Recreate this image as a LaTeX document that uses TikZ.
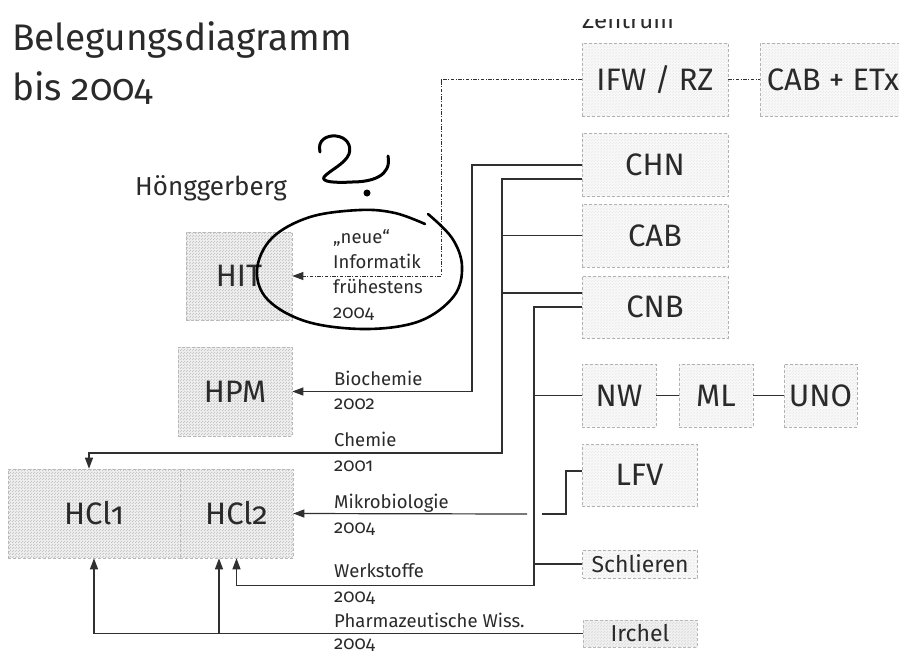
\documentclass[tikz,border=0pt]{standalone}
\usepackage{fontspec}
\setmainfont{Fira Sans}[Numbers=OldStyle]
\usetikzlibrary{arrows.meta,patterns,calc}
\definecolor{ink}{HTML}{2A2A2A}
\definecolor{ln}{HTML}{303030}
\begin{document}
\begin{tikzpicture}[x=1pt,y=-1pt,
  conn/.style={draw=ln, line width=1.2pt},
  arr/.style={-{Stealth[length=11pt,width=8pt,inset=0pt]}},
  ddash/.style={draw=ln, line width=0.9pt, dash pattern=on 3.5pt off 1.5pt on 1pt off 1.5pt},
  zbox/.style={draw=gray!60, line width=0.6pt, dash pattern=on 3pt off 2pt,
    preaction={fill=gray!5}, pattern=north east lines, pattern color=gray!18,
    inner sep=0pt, text=ink, font=\fontsize{31}{36}\selectfont},
  hbox/.style={draw=gray!55, line width=0.6pt, dash pattern=on 3pt off 2pt,
    preaction={fill=gray!12}, pattern=north east lines, pattern color=gray!50,
    inner sep=0pt, text=ink, font=\fontsize{31}{36}\selectfont},
  lab/.style={anchor=base west, inner sep=0pt, text=ink, font=\fontsize{18.5}{22}\selectfont},
  scrib/.style={draw=black, line width=3pt, line cap=round, line join=round}
]
\useasboundingbox (0,0) rectangle (899,654);
\fill[white] (0,0) rectangle (899,654);

% titles
\node[anchor=base west, inner sep=0pt, text=ink, font=\fontsize{37}{40}\selectfont] (t1) at (12,50) {Belegungsdiagramm};
\node[anchor=base west, inner sep=0pt, text=ink, font=\fontsize{37}{40}\selectfont] (t2) at (12,100) {bis 2004};
\node[anchor=base west, inner sep=0pt, text=ink, font=\fontsize{26}{28}\selectfont] (hg) at (135,195) {Hönggerberg};
\begin{scope}
  \clip (570,19) rectangle (720,40);
  \node[anchor=base west, inner sep=0pt, text=ink, font=\fontsize{24}{28}\selectfont] (zt) at (582,28) {Zentrum};
\end{scope}

% Zentrum boxes
\node[zbox, minimum width=146pt, minimum height=73pt] (ifw) at (655,79.5) {IFW / RZ};
\node[zbox, minimum width=146pt, minimum height=73pt] (cabetx) at (833,79.5) {CAB + ETx};
\node[zbox, minimum width=146pt, minimum height=63pt] (chn) at (655,165) {CHN};
\node[zbox, minimum width=146pt, minimum height=63pt] (cab) at (655,235.5) {CAB};
\node[zbox, minimum width=146pt, minimum height=62pt] (cnb) at (655,307) {CNB};
\node[zbox, minimum width=74pt, minimum height=63pt] (nw) at (619,395.5) {NW};
\node[zbox, minimum width=74pt, minimum height=63pt] (ml) at (716,395.5) {ML};
\node[zbox, minimum width=73pt, minimum height=63pt] (uno) at (820.5,395.5) {UNO};
\node[zbox, minimum width=115pt, minimum height=62pt] (lfv) at (639.5,475) {LFV};
\node[zbox, minimum width=115pt, minimum height=28pt, font=\fontsize{23}{28}\selectfont] (schl) at (640,564) {Schlieren};
\node[hbox, pattern color=gray!30, minimum width=114pt, minimum height=27pt, font=\fontsize{23}{28}\selectfont] (irchel) at (640,633.5) {Irchel};

% Hönggerberg boxes
\node[hbox, minimum width=106pt, minimum height=88pt] (hit) at (239,276) {HIT};
\node[hbox, minimum width=114pt, minimum height=89pt] (hpm) at (235,391.5) {HPM};
\node[hbox, minimum width=172pt, minimum height=89pt] (hcl1) at (94,513.5) {HCl1};
\node[hbox, minimum width=113pt, minimum height=89pt] (hcl2) at (236.5,513.5) {HCl2};

% coordinates
\coordinate (b1) at (472,391.5);
\coordinate (c1) at (502,453);
\coordinate (c2) at (89,453);
\coordinate (w1) at (534,585.5);
\coordinate (m1) at (566,514);
\coordinate (m2) at (542,514);
\coordinate (m3) at (527,514);
\coordinate (p1) at (219,633.5);
\coordinate (d1) at (441,276);

% dash-dot connectors
\draw[ddash, arr] (ifw.west) -| (d1) -- (hit.east);
\draw[ddash] (ifw.east) -- (cabetx.west);

% Biochemie
\draw[conn, arr] (chn.west) -| (b1) -- (hpm.east);
% Chemie
\draw[conn, arr] ([yshift=-14pt]chn.west) -| (c1) -- (c2) -- (c2 |- hcl1.north);
\draw[conn] (cab.west) -- (cab.west -| c1);
\draw[conn] ([yshift=14pt]cnb.west) -- ([yshift=14pt]cnb.west -| c1);
% Werkstoffe
\draw[conn, arr] (cnb.west) -| (w1) -| (hcl2.south);
\draw[conn] (nw.west) -- (nw.west -| w1);
\draw[conn] (schl.west) -- (schl.west -| w1);
% Mikrobiologie
\draw[conn] ([yshift=4pt]lfv.west) -| (m1) -- (m2);
\draw[conn, arr] (m3) -- (hcl2.east);
% Pharmazeutische Wiss.
\draw[conn, arr] (irchel.west) -| (hcl1.south);
\draw[conn, arr] (p1) -- (p1 |- hcl2.south);
% NW - ML - UNO
\draw[conn] (nw.east) -- (ml.west);
\draw[conn] (ml.east) -- (uno.west);

% labels
\node[lab] (l1) at (334,385) {Biochemie};
\node[lab] (l1b) at (334,409) {2002};
\node[lab] (l2) at (334,446) {Chemie};
\node[lab] (l2b) at (334,471) {2001};
\node[lab] (l3) at (334,508) {Mikrobiologie};
\node[lab] (l3b) at (334,533) {2004};
\node[lab] (l4) at (334,577) {Werkstoffe};
\node[lab] (l4b) at (334,602) {2004};
\node[lab] (l5) at (334,627) {Pharmazeutische Wiss.};
\node[lab] (l5b) at (334,649) {2004};
\node[lab] (n1) at (333,243) {„neue“};
\node[lab] (n2) at (333,268) {Informatik};
\node[lab] (n3) at (333,293) {frühestens};
\node[lab] (n4) at (333,318) {2004};

% handwriting
\draw[scrib] (320,152) .. controls (317,140) and (327,135) .. (336,136)
  .. controls (346,137) and (352,145) .. (349,154)
  .. controls (345,164) and (330,170) .. (324,177)
  .. controls (321,182) and (335,183) .. (352,182)
  .. controls (372,182) and (392,176) .. (388,156);
\fill[black] (367,193) circle (3.5);
\draw[scrib, line width=2.6pt] plot[smooth, tension=0.6] coordinates {(425,224) (395,213) (360,210) (310,217) (272,238) (257,270) (268,300) (308,322) (367,329) (420,321) (454,296) (462,266) (452,238) (428,214)};
\end{tikzpicture}
\end{document}
